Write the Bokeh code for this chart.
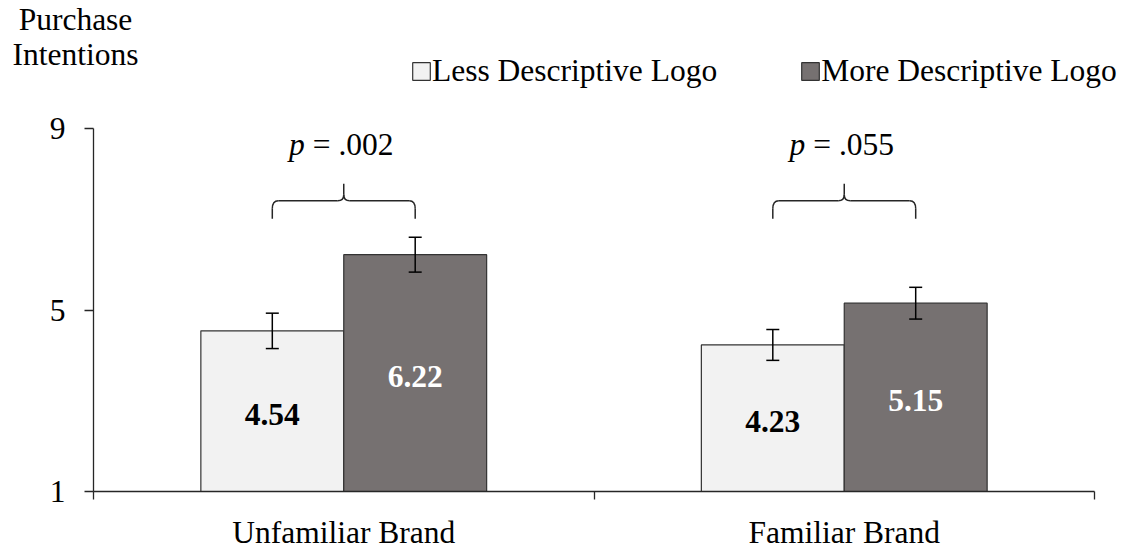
import numpy as np
from bokeh.plotting import figure
from bokeh.models import (ColumnDataSource, Whisker, TeeHead, FixedTicker, Legend,
                          LegendItem, Label, Range1d)
from bokeh.core.properties import value
from bokeh.embed import file_html
from bokeh.resources import INLINE

# ---------------- data ----------------
categories = ["Unfamiliar Brand", "Familiar Brand"]
series = ["Less Descriptive Logo", "More Descriptive Logo"]
less_means = [4.54, 4.23]
more_means = [6.22, 5.15]
less_se = [0.39, 0.34]
more_se = [0.385, 0.35]
p_values = [".002", ".055"]
y_ticks = [1, 5, 9]
brace_levels = [7.41, 7.41]
y_title = ["Purchase", "Intentions"]

# ---------------- style / layout ----------------
FONT = "Liberation Serif"
FS = "31.5px"
LIGHT = "#F2F2F2"
DARK = "#767171"
EDGE = "#333333"
AXIS = "#262626"

W, H = 1130, 550
AX_L, AX_R, AX_T, AX_B = 93, 1094, 128, 491   # pixel box of the axes

ncat = len(categories)
cat_x = np.arange(ncat) + 0.5
bw = 0.2855
less_x = cat_x - bw / 2
more_x = cat_x + bw / 2

y0, y1 = y_ticks[0], y_ticks[-1]
px_x = ncat / (AX_R - AX_L)
px_y = (y1 - y0) / (AX_B - AX_T)
xr = Range1d(-AX_L * px_x, ncat + (W - AX_R) * px_x)
yr = Range1d(y0 - (H - AX_B) * px_y, y1 + AX_T * px_y)

def ypix(py):
    return y0 + (AX_B - py) * px_y

p = figure(width=W, height=H, x_range=xr, y_range=yr, output_backend="svg",
           toolbar_location=None, min_border=0, min_border_left=0,
           min_border_right=0, min_border_top=0, min_border_bottom=0)
p.outline_line_color = None
p.xgrid.grid_line_color = None
p.ygrid.grid_line_color = None
p.background_fill_color = "white"
p.border_fill_color = "white"

# y axis
p.yaxis.fixed_location = 0
p.yaxis.bounds = (y0, y1)
p.yaxis.ticker = FixedTicker(ticks=y_ticks)
p.yaxis.major_tick_out = 9
p.yaxis.major_tick_in = 0
p.yaxis.minor_tick_line_color = None
p.yaxis.major_label_standoff = 19
p.yaxis.axis_line_color = AXIS
p.yaxis.axis_line_width = 1.3
p.yaxis.major_tick_line_color = AXIS
p.yaxis.major_tick_line_width = 1.3
p.yaxis.major_label_text_font = FONT
p.yaxis.major_label_text_font_size = FS
p.yaxis.major_label_text_color = "black"

# x axis
p.xaxis.fixed_location = y0
p.xaxis.bounds = (0, ncat)
p.xaxis.ticker = FixedTicker(ticks=list(cat_x), minor_ticks=list(np.arange(ncat + 1)))
p.xaxis.major_tick_out = 0
p.xaxis.major_tick_in = 0
p.xaxis.minor_tick_out = 8
p.xaxis.minor_tick_in = 0
p.xaxis.minor_tick_line_color = AXIS
p.xaxis.minor_tick_line_width = 1.3
p.xaxis.axis_line_color = AXIS
p.xaxis.axis_line_width = 1.3
p.xaxis.major_label_overrides = {float(c): name for c, name in zip(cat_x, categories)}
p.xaxis.major_label_standoff = 15
p.xaxis.major_label_text_font = FONT
p.xaxis.major_label_text_font_size = FS
p.xaxis.major_label_text_color = "black"

# bars
def make_src(xs, means, se):
    m = np.array(means)
    e = np.array(se)
    return ColumnDataSource(dict(x=xs, top=m, upper=m + e, lower=m - e,
                                 mid=(y0 + m) / 2, lab=[f"{v:.2f}" for v in means]))

src_less = make_src(less_x, less_means, less_se)
src_more = make_src(more_x, more_means, more_se)

r_less = p.vbar(x="x", top="top", bottom=y0, width=bw, source=src_less,
                fill_color=LIGHT, line_color=EDGE, line_width=1.2)
r_more = p.vbar(x="x", top="top", bottom=y0, width=bw, source=src_more,
                fill_color=DARK, line_color=EDGE, line_width=1.2)

# value labels
p.text(x="x", y="mid", text="lab", source=src_less, text_font=value(FONT),
       text_font_style="bold", text_font_size=FS, text_align="center",
       text_baseline="middle", text_color="black", y_offset=3)
p.text(x="x", y="mid", text="lab", source=src_more, text_font=value(FONT),
       text_font_style="bold", text_font_size=FS, text_align="center",
       text_baseline="middle", text_color="white", y_offset=3)

# error bars
for src in (src_less, src_more):
    w = Whisker(base="x", upper="upper", lower="lower", source=src,
                line_color="black", line_width=1.5, level="overlay",
                upper_head=TeeHead(size=13, line_color="black", line_width=1.5),
                lower_head=TeeHead(size=13, line_color="black", line_width=1.5))
    p.add_layout(w)

# braces
leg_straight = 10 * px_y
tip_drop = 18 * px_y
peak_rise = 17 * px_y
curve_dx = 6 * px_x
mid_rise = 6 * px_y
q = dict(x0=[], y0=[], x1=[], y1=[], cx=[], cy=[])
s = dict(x0=[], y0=[], x1=[], y1=[])

def add_q(a, b, c, d, e, f):
    for k, v in zip(["x0", "y0", "x1", "y1", "cx", "cy"], [a, b, c, d, e, f]):
        q[k].append(v)

def add_s(a, b, c, d):
    for k, v in zip(["x0", "y0", "x1", "y1"], [a, b, c, d]):
        s[k].append(v)

for i in range(ncat):
    xl, xc, xrr, h = less_x[i], cat_x[i], more_x[i], brace_levels[i]
    tip = h - tip_drop
    add_s(xl, tip, xl, tip + leg_straight)
    add_q(xl, tip + leg_straight, xl + curve_dx, h, xl, h)
    add_s(xrr, tip, xrr, tip + leg_straight)
    add_q(xrr, tip + leg_straight, xrr - curve_dx, h, xrr, h)
    add_s(xl + curve_dx, h, xc - curve_dx, h)
    add_s(xc + curve_dx, h, xrr - curve_dx, h)
    add_q(xc - curve_dx, h, xc, h + mid_rise, xc, h)
    add_q(xc + curve_dx, h, xc, h + mid_rise, xc, h)
    add_s(xc, h + mid_rise, xc, h + peak_rise)

p.quadratic(x0="x0", y0="y0", x1="x1", y1="y1", cx="cx", cy="cy",
            source=ColumnDataSource(q), line_color=AXIS, line_width=1.5)
p.segment(x0="x0", y0="y0", x1="x1", y1="y1", source=ColumnDataSource(s),
          line_color=AXIS, line_width=1.5)

# p-value texts
p_y = [h + 56 * px_y for h in brace_levels]
p.text(x=list(cat_x), y=p_y, text=["p"] * ncat, text_font=value(FONT),
       text_font_style="italic", text_font_size=FS, text_align="right",
       text_baseline="middle", x_offset=-39, text_color="black")
p.text(x=list(cat_x), y=p_y, text=[f"= {v}" for v in p_values], text_font=value(FONT),
       text_font_size=FS, text_align="left", text_baseline="middle",
       x_offset=-31, text_color="black")

# legend
legend = Legend(items=[LegendItem(label=series[0], renderers=[r_less]),
                       LegendItem(label=series[1], renderers=[r_more])],
                orientation="horizontal", location=(410, H - 89),
                glyph_width=22, glyph_height=22, label_standoff=-4, spacing=82,
                padding=0, margin=0, border_line_color=None,
                background_fill_alpha=0, label_text_font=FONT,
                label_text_font_size=FS, label_text_color="black")
p.add_layout(legend)

# y-axis title (two lines, top-left)
title_x = (75 - AX_L) * px_x
for txt, py in zip(y_title, [19, 54]):
    p.add_layout(Label(x=title_x, y=ypix(py), text=txt,
                       text_font=FONT, text_font_size=FS, text_align="center",
                       text_baseline="middle", text_color="black"))

open("out.html", "w").write(file_html(p, INLINE))
